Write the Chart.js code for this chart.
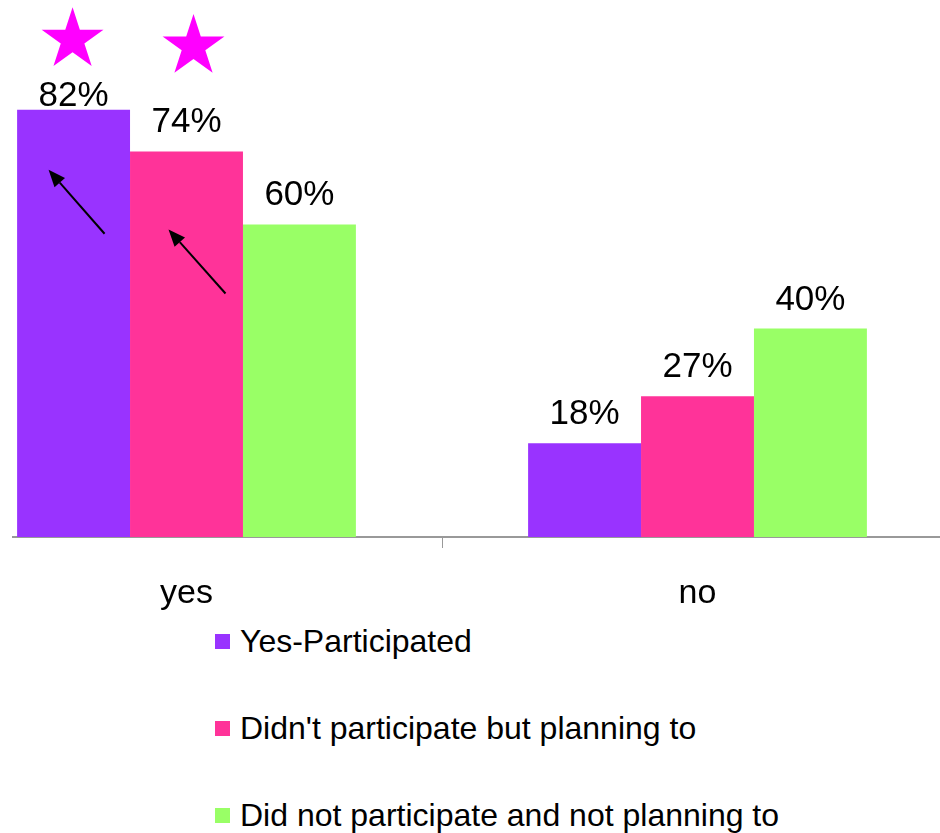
<!DOCTYPE html>
<html>
<head>
<meta charset="utf-8">
<script src="https://cdn.jsdelivr.net/npm/chart.js@4/dist/chart.umd.min.js"></script>
<style>
    html, body { margin: 0; padding: 0; background: #fff; }
    body { width: 940px; height: 833px; position: relative; overflow: hidden; font-family: 'Liberation Sans', Arial, sans-serif; }
    #clip { position: absolute; left: 12px; top: 0; width: 928px; height: 620px; overflow: hidden; }
    #wrap { position: absolute; left: -81px; top: 0; width: 1022px; height: 620px; }
    #legend { position: absolute; left: 215px; top: 621px; }
    .item { display: flex; align-items: center; height: 40px; margin-bottom: 47px; font-size: 32px; color: #000; white-space: nowrap; }
    .swatch { width: 15px; height: 15px; margin-right: 10px; }
</style>
</head>
<body>
<div id="clip"><div id="wrap"><canvas id="chart"></canvas></div></div>
<div id="legend"></div>
<script>
const categories = ['yes', 'no'];
const seriesNames = ['Yes-Participated', "Didn't participate but planning to", 'Did not participate and not planning to'];
const participated = [82, 18];
const planning = [74, 27];
const notPlanning = [60, 40];
const seriesColors = ['#9933FF', '#FF3399', '#99FF66'];
const yTicks = [0, 100];

const fontFamily = "'Liberation Sans', Arial, sans-serif";

// stars and arrows are placed relative to the bar they point at
const stars = [
    { dataset: 0, index: 0, dx: -1, dy: -70 },
    { dataset: 1, index: 0, dx: 7, dy: -105 }
];
const arrows = [
    { dataset: 0, index: 0, from: [31, 124], to: [-25, 60] },
    { dataset: 1, index: 0, from: [39, 142], to: [-18, 78] }
];

function drawStar(ctx, cx, cy, r) {
    const inner = r * 0.382;
    ctx.beginPath();
    for (let i = 0; i < 10; i++) {
        const rad = i % 2 === 0 ? r : inner;
        const a = -Math.PI / 2 + i * Math.PI / 5;
        ctx.lineTo(cx + rad * Math.cos(a), cy + rad * Math.sin(a));
    }
    ctx.closePath();
    ctx.fill();
}

function drawArrow(ctx, x1, y1, x2, y2) {
    const ang = Math.atan2(y2 - y1, x2 - x1);
    const head = 17;
    const half = 7;
    const bx = x2 - head * Math.cos(ang);
    const by = y2 - head * Math.sin(ang);
    ctx.beginPath();
    ctx.moveTo(x1, y1);
    ctx.lineTo(bx, by);
    ctx.stroke();
    ctx.beginPath();
    ctx.moveTo(x2, y2);
    ctx.lineTo(bx + half * Math.sin(ang), by - half * Math.cos(ang));
    ctx.lineTo(bx - half * Math.sin(ang), by + half * Math.cos(ang));
    ctx.closePath();
    ctx.fill();
}

const valueLabels = {
    id: 'valueLabels',
    afterDatasetsDraw(chart) {
        const ctx = chart.ctx;
        ctx.save();
        ctx.font = `35px ${fontFamily}`;
        ctx.fillStyle = '#000';
        ctx.textAlign = 'center';
        ctx.textBaseline = 'alphabetic';
        chart.data.datasets.forEach((ds, di) => {
            chart.getDatasetMeta(di).data.forEach((bar, i) => {
                const y = Math.max(bar.y - 19, chart.chartArea.top + 90);
                ctx.fillText(`${ds.data[i]}%`, bar.x, y);
            });
        });

        ctx.fillStyle = '#FF00FF';
        for (const s of stars) {
            const bar = chart.getDatasetMeta(s.dataset).data[s.index];
            drawStar(ctx, bar.x + s.dx, bar.y + s.dy, 32.5);
        }

        ctx.strokeStyle = '#000';
        ctx.fillStyle = '#000';
        ctx.lineWidth = 2;
        for (const a of arrows) {
            const bar = chart.getDatasetMeta(a.dataset).data[a.index];
            drawArrow(ctx, bar.x + a.from[0], bar.y + a.from[1], bar.x + a.to[0], bar.y + a.to[1]);
        }
        ctx.restore();
    }
};

const values = [participated, planning, notPlanning];
const datasets = seriesNames.map((name, i) => ({
    label: name,
    data: values[i],
    backgroundColor: seriesColors[i],
    borderWidth: 0,
    barPercentage: 1,
    categoryPercentage: 0.663
}));

new Chart(document.getElementById('chart'), {
    type: 'bar',
    data: { labels: categories, datasets },
    options: {
        responsive: true,
        maintainAspectRatio: false,
        animation: false,
        layout: { padding: { top: 16, left: 0, right: 0, bottom: 0 } },
        plugins: {
            legend: { display: false },
            tooltip: { enabled: false }
        },
        scales: {
            x: {
                grid: { display: true, drawOnChartArea: false, drawTicks: true, tickLength: 11, color: '#999', offset: true },
                border: { display: true, color: '#999', width: 2 },
                ticks: { color: '#000', font: { family: fontFamily, size: 34 }, padding: 25 },
                afterFit(scale) { scale.height = 83; }
            },
            y: {
                display: false,
                min: yTicks[0],
                max: yTicks[1]
            }
        }
    },
    plugins: [valueLabels]
});

const legend = document.getElementById('legend');
seriesNames.forEach((name, i) => {
    const row = document.createElement('div');
    row.className = 'item';
    row.innerHTML = `<span class="swatch" style="background:${seriesColors[i]}"></span><span>${name}</span>`;
    legend.appendChild(row);
});
</script>
</body>
</html>
